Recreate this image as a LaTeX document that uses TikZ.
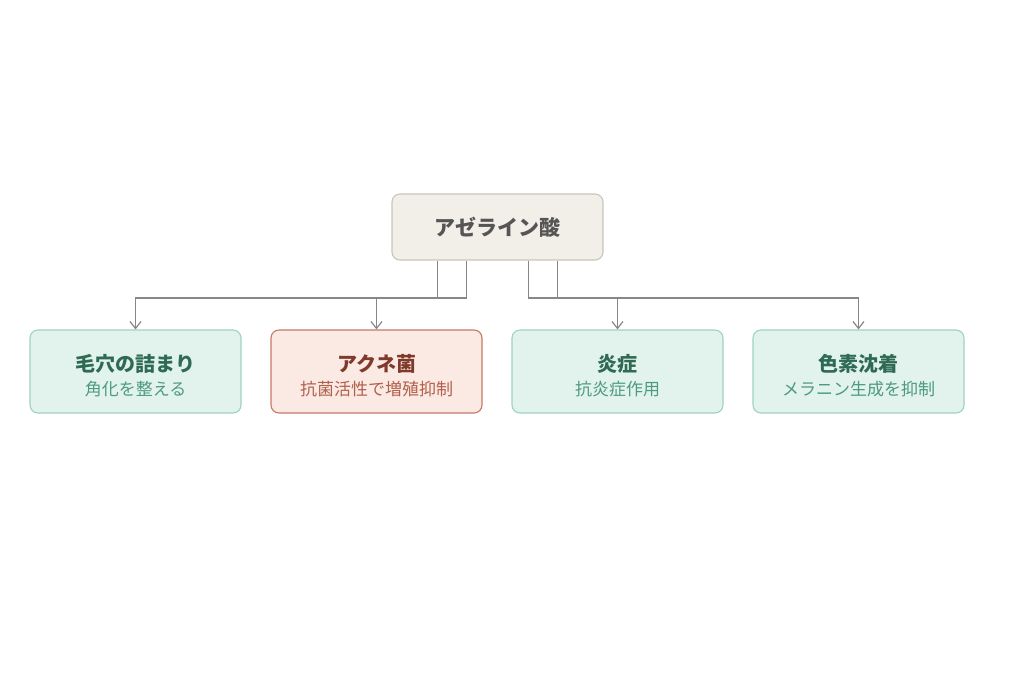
\documentclass[tikz,border=0pt]{standalone}
\usepackage{fontspec}
\setmainfont{Noto Sans CJK JP}
\usetikzlibrary{arrows.meta}
\definecolor{rootfill}{HTML}{F2EFE9}
\definecolor{rootdraw}{HTML}{C9C5BC}
\definecolor{roottext}{HTML}{555555}
\definecolor{gfill}{HTML}{E1F3EC}
\definecolor{gdraw}{HTML}{9ED3BF}
\definecolor{gtitle}{HTML}{2F6A55}
\definecolor{gsub}{HTML}{4E9A80}
\definecolor{rfill}{HTML}{FBEAE4}
\definecolor{rdraw}{HTML}{C57966}
\definecolor{rtitle}{HTML}{7F3A2B}
\definecolor{rsub}{HTML}{B2604C}
\definecolor{linec}{HTML}{878787}
\tikzset{
  box/.style={rounded corners=8pt, line width=1.1pt, minimum width=211pt, inner sep=0pt, align=center},
  rootbox/.style={box, fill=rootfill, draw=rootdraw, minimum height=66pt, text=roottext, font=\fontsize{21}{25}\selectfont\bfseries},
  gbox/.style={box, fill=gfill, draw=gdraw, minimum height=83pt},
  rbox/.style={box, fill=rfill, draw=rdraw, minimum height=83pt},
  conn/.style={draw=linec, line width=1.2pt, -{Straight Barb[length=7pt,width=11pt,line width=1.2pt]}},
}
\newcommand{\gtxt}[2]{{\color{gtitle}\fontsize{20}{24}\selectfont\bfseries\rule{0pt}{25.5pt}#1}\\[6pt]{\color{gsub}\fontsize{17}{20}\selectfont #2}}
\newcommand{\rtxt}[2]{{\color{rtitle}\fontsize{20}{24}\selectfont\bfseries\rule{0pt}{25.5pt}#1}\\[6pt]{\color{rsub}\fontsize{17}{20}\selectfont #2}}
\begin{document}
\begin{tikzpicture}[x=1pt,y=-1pt]
\useasboundingbox (0,0) rectangle (1024,683);
\node[rootbox] (root) at (497.5,227) {アゼライン酸};
\node[gbox] (c1) at (135.5,371.5) {\gtxt{毛穴の詰まり}{角化を整える}};
\node[rbox] (c2) at (376.5,371.5) {\rtxt{アクネ菌}{抗菌活性で増殖抑制}};
\node[gbox] (c3) at (617.5,371.5) {\gtxt{炎症}{抗炎症作用}};
\node[gbox] (c4) at (858.5,371.5) {\gtxt{色素沈着}{メラニン生成を抑制}};
\coordinate (b1) at ([xshift=-60pt]root.south);
\coordinate (b2) at ([xshift=-31pt]root.south);
\coordinate (b3) at ([xshift=31pt]root.south);
\coordinate (b4) at ([xshift=60pt]root.south);
\draw[conn] (b1) -- (b1 |- 0,298) -- (c1.north |- 0,298) -- (c1.north);
\draw[conn] (b2) -- (b2 |- 0,298) -- (c2.north |- 0,298) -- (c2.north);
\draw[conn] (b3) -- (b3 |- 0,298) -- (c3.north |- 0,298) -- (c3.north);
\draw[conn] (b4) -- (b4 |- 0,298) -- (c4.north |- 0,298) -- (c4.north);
\end{tikzpicture}
\end{document}
